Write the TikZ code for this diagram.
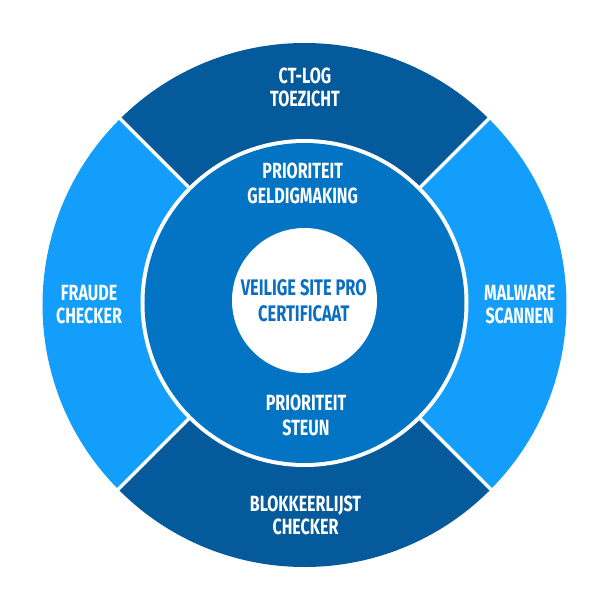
\documentclass[tikz,border=0pt]{standalone}
\usepackage{fontspec}
\setmainfont[FakeStretch=0.73]{Fira Sans}
\usetikzlibrary{positioning}
\definecolor{segdark}{RGB}{4,90,155}
\definecolor{seglight}{RGB}{18,158,250}
\definecolor{ringblue}{RGB}{3,116,196}
\definecolor{coretext}{RGB}{10,111,194}
\tikzset{seglabel/.style={text=white, align=center, inner sep=0pt, font=\bfseries\fontsize{22}{23}\selectfont},
  ringlabel/.style={seglabel, font=\bfseries\fontsize{22}{25}\selectfont},
  corelabel/.style={seglabel, text=coretext, font=\bfseries\fontsize{22.5}{26}\selectfont}}

\begin{document}
\begin{tikzpicture}[x=1pt, y=1pt]
      \useasboundingbox (-304.5,-297) rectangle (295.5,303);
      % outer segments
      \fill[segdark] (0,-2) -- +(45:262) arc (45:135:262) -- cycle;
      \fill[seglight] (0,-2) -- +(135:262) arc (135:225:262) -- cycle;
      \fill[segdark] (0,-2) -- +(225:262) arc (225:315:262) -- cycle;
      \fill[seglight] (0,-2) -- +(315:262) arc (315:405:262) -- cycle;
      % ring and core
      \fill[white] (0,0) circle (164);
      \fill[ringblue] (0,0) circle (160);
      \fill[white] (0,2.5) circle (72.5);
      \foreach \a in {45,135,225,315}
            \draw[white, line width=3.5pt] (\a:162) -- (\a:268);
      % texts
      \node[seglabel] (ct_log) at (0.5,216) {CT-LOG\\TOEZICHT};
      \node[seglabel] (fraude) at (-215.5,-2) {FRAUDE\\CHECKER};
      \node[seglabel] (malware) at (215.2,-2) {MALWARE\\SCANNEN};
      \node[seglabel] (blokkeerlijst) at (1,-212) {BLOKKEERLIJST\\CHECKER};
      \node[ringlabel] (geldigmaking) at (-1.8,119.3) {PRIORITEIT\\GELDIGMAKING};
      \node[ringlabel] (steun) at (1.5,-112.7) {PRIORITEIT\\STEUN};
      \node[corelabel] (certificaat) at (-0.7,2.5) {VEILIGE SITE PRO\\CERTIFICAAT};
\end{tikzpicture}
\end{document}
